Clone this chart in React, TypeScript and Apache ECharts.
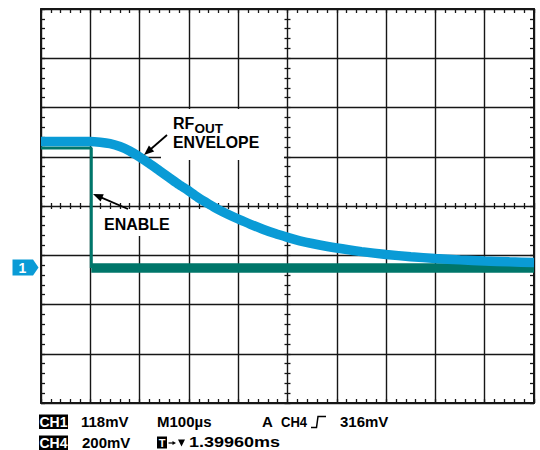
import React, { useEffect, useRef } from "react";
import * as echarts from "echarts";

// ---- data ----
// time axis in µs (M100µs -> 100 µs/div, 10 divisions), vertical in screen divisions (8 divisions)
const xRange = [-500, 500];
const xStep = 100;
const yRange = [-4, 4];
const yStep = 1;

// CH1: RF_OUT envelope
const rfTimeUs = [-500, -400, -380, -360, -340, -320, -300, -280, -260, -240, -220, -200, -180, -160, -140, -120, -100, -75, -50, -25, 0, 25, 50, 100, 150, 200, 250, 300, 350, 400, 450, 500];
const rfEnvelopeDiv = [1.31, 1.31, 1.295, 1.265, 1.208, 1.117, 0.995, 0.861, 0.719, 0.577, 0.434, 0.305, 0.162, 0.041, -0.073, -0.173, -0.264, -0.372, -0.471, -0.56, -0.636, -0.707, -0.761, -0.853, -0.926, -0.985, -1.029, -1.066, -1.094, -1.117, -1.133, -1.147];

// CH4: ENABLE step
const enableTimeUs = [-500, -398, -398, 500];
const enableDiv = [1.18, 1.18, -1.26, -1.26];

// readouts
const ch1Label = "CH1";
const ch1Scale = "118mV";
const timebase = "M100µs";
const trigLabel = ["A", "CH4"];
const trigLevel = "316mV";
const ch4Label = "CH4";
const ch4Scale = "200mV";
const trigPos = "1.39960ms";
const annotRf = ["RF", "OUT", "ENVELOPE"];
const annotEnable = "ENABLE";

const CYAN = "#0a9bd6";
const TEAL = "#00766a";
const INK = "#161616";
const FONT = '"Liberation Sans", Arial, Helvetica, sans-serif';

function txt(text: string, x: number, y: number, size: number, extra: any = {}) {
  return {
    type: "text",
    x,
    y,
    z: 6,
    scaleX: extra.scaleX ?? 1,
    style: {
      text,
      fontSize: size,
      fontWeight: "bold",
      fontFamily: FONT,
      fill: extra.fill ?? "#000",
      align: extra.align ?? "left",
      textAlign: extra.align ?? "left",
      verticalAlign: "middle",
      textVerticalAlign: "middle",
    },
  };
}

function arrow(tail: [number, number], tip: [number, number]) {
  const dx = tip[0] - tail[0];
  const dy = tip[1] - tail[1];
  const L = Math.hypot(dx, dy);
  const ux = dx / L;
  const uy = dy / L;
  const hl = 10;
  const hw = 4;
  const bx = tip[0] - ux * hl;
  const by = tip[1] - uy * hl;
  return [
    {
      type: "line",
      z: 6,
      shape: { x1: tail[0], y1: tail[1], x2: bx + ux * 2, y2: by + uy * 2 },
      style: { stroke: "#000", lineWidth: 1.8 },
    },
    {
      type: "polygon",
      z: 6,
      shape: { points: [tip, [bx - uy * hw, by + ux * hw], [bx + uy * hw, by - ux * hw]] },
      style: { fill: "#000" },
    },
  ];
}

function valueAxis(kind: "x" | "y", extra: any) {
  const r = kind === "x" ? xRange : yRange;
  const step = kind === "x" ? xStep : yStep;
  return {
    type: "value",
    min: r[0],
    max: r[1],
    interval: step,
    axisLabel: { show: false },
    splitLine: { show: false },
    axisLine: { show: false, onZero: false },
    axisTick: { show: true, inside: true, length: 4, lineStyle: { color: INK, width: 1.3 } },
    minorTick: { show: true, splitNumber: 5, length: 4, lineStyle: { color: INK, width: 1.3 } },
    ...extra,
  };
}

export default function App() {
  const ref = useRef<HTMLDivElement>(null);

  useEffect(() => {
    if (!ref.current) return;
    const chart = echarts.init(ref.current, undefined, { renderer: "svg" });

    const gridLine = { show: true, lineStyle: { color: INK, width: 1.4 } };
    const border = { show: true, onZero: false, lineStyle: { color: INK, width: 2 } };
    const centerTickIn = { show: true, inside: true, length: 3, lineStyle: { color: INK, width: 1.3 } };
    const centerTickOut = { show: true, inside: false, length: 3, lineStyle: { color: INK, width: 1.3 } };
    const centerMinor = { show: true, splitNumber: 5, length: 3, lineStyle: { color: INK, width: 1.3 } };

    const graphic: any[] = [
      // white label backgrounds that hide the graticule
      { type: "rect", z: 1, shape: { x: 161, y: 109, width: 123, height: 51 }, style: { fill: "#fff" } },
      { type: "rect", z: 1, shape: { x: 100, y: 210, width: 76, height: 26 }, style: { fill: "#fff" } },
      // annotations
      txt(annotRf[0], 173, 123, 16),
      txt(annotRf[1], 194.5, 128, 13.5),
      txt(annotRf[2], 173, 142.5, 16, { scaleX: 0.99 }),
      ...arrow([167, 135], [144, 155]),
      txt(annotEnable, 104, 224, 16),
      ...arrow([128, 209], [93, 194]),
      // channel 1 ground marker
      {
        type: "polygon",
        z: 6,
        shape: { points: [[12.5, 259.5], [33, 259.5], [38.5, 267.5], [33, 275.5], [12.5, 275.5]] },
        style: { fill: CYAN },
      },
      txt("1", 22.5, 268, 14, { fill: "#fff", align: "center" }),
      // readout row 1
      { type: "rect", z: 5, shape: { x: 39, y: 414.5, width: 29, height: 14.5 }, style: { fill: "#000" } },
      txt(ch1Label, 53.5, 422, 14, { fill: "#fff", align: "center" }),
      txt(ch1Scale, 81, 421.7, 15),
      txt(timebase, 157, 421.7, 15),
      txt(trigLabel[0], 262, 421.7, 15),
      txt(trigLabel[1], 281, 421.7, 15, { scaleX: 0.87 }),
      {
        type: "polyline",
        z: 6,
        shape: { points: [[311, 427.5], [316.5, 427.5], [318, 416.5], [326, 416.5]] },
        style: { stroke: "#000", lineWidth: 1.5, fill: null },
      },
      txt(trigLevel, 340, 421.7, 15),
      // readout row 2
      { type: "rect", z: 5, shape: { x: 39, y: 435.5, width: 29, height: 14.5 }, style: { fill: "#000" } },
      txt(ch4Label, 53.5, 443, 14, { fill: "#fff", align: "center" }),
      txt(ch4Scale, 82, 442.5, 15),
      { type: "rect", z: 5, shape: { x: 157, y: 436.5, width: 10, height: 12 }, style: { fill: "#000" } },
      txt("T", 162, 443, 11, { fill: "#fff", align: "center" }),
      { type: "line", z: 6, shape: { x1: 168.5, y1: 443, x2: 173, y2: 443 }, style: { stroke: "#000", lineWidth: 1.2 } },
      { type: "polygon", z: 6, shape: { points: [[176, 443], [172.5, 441], [172.5, 445]] }, style: { fill: "#000" } },
      { type: "polygon", z: 6, shape: { points: [[178, 439.5], [185, 439.5], [181.5, 446.5]] }, style: { fill: "#000" } },
      txt(trigPos, 189, 442.5, 15, { scaleX: 1.2 }),
    ];

    chart.setOption({
      animation: false,
      backgroundColor: "#fff",
      grid: { left: 41, top: 9, width: 493, height: 394, containLabel: false },
      xAxis: [
        valueAxis("x", { position: "bottom", axisLine: border, splitLine: gridLine }),
        valueAxis("x", { position: "top", axisLine: border }),
        valueAxis("x", { position: "bottom", axisLine: { show: false, onZero: true, onZeroAxisIndex: 0 }, axisTick: centerTickIn, minorTick: centerMinor }),
        valueAxis("x", { position: "bottom", axisLine: { show: false, onZero: true, onZeroAxisIndex: 0 }, axisTick: centerTickOut, minorTick: centerMinor }),
      ],
      yAxis: [
        valueAxis("y", { position: "left", axisLine: border, splitLine: gridLine }),
        valueAxis("y", { position: "right", axisLine: border }),
        valueAxis("y", { position: "left", axisLine: { show: false, onZero: true, onZeroAxisIndex: 0 }, axisTick: centerTickIn, minorTick: centerMinor }),
        valueAxis("y", { position: "left", axisLine: { show: false, onZero: true, onZeroAxisIndex: 0 }, axisTick: centerTickOut, minorTick: centerMinor }),
      ],
      series: [
        {
          name: "ENABLE high",
          type: "line",
          xAxisIndex: 0,
          yAxisIndex: 0,
          z: 2,
          symbol: "none",
          data: enableTimeUs.slice(0, 3).map((t, i) => [t, enableDiv[i]]),
          lineStyle: { color: TEAL, width: 3 },
        },
        {
          name: "ENABLE low",
          type: "line",
          xAxisIndex: 0,
          yAxisIndex: 0,
          z: 2,
          symbol: "none",
          data: enableTimeUs.slice(2).map((t, i) => [t, enableDiv[i + 2]]),
          lineStyle: { color: TEAL, width: 9.5 },
        },
        {
          name: "RF OUT envelope",
          type: "line",
          xAxisIndex: 0,
          yAxisIndex: 0,
          z: 3,
          symbol: "none",
          smooth: 0.2,
          data: rfTimeUs.map((t, i) => [t, rfEnvelopeDiv[i]]),
          lineStyle: { color: CYAN, width: 9.5 },
        },
      ],
      graphic,
    });

    return () => chart.dispose();
  }, []);

  return (
    <div
      ref={ref}
      style={{ position: "fixed", left: 0, top: 0, width: 540, height: 450, background: "#fff" }}
    />
  );
}
